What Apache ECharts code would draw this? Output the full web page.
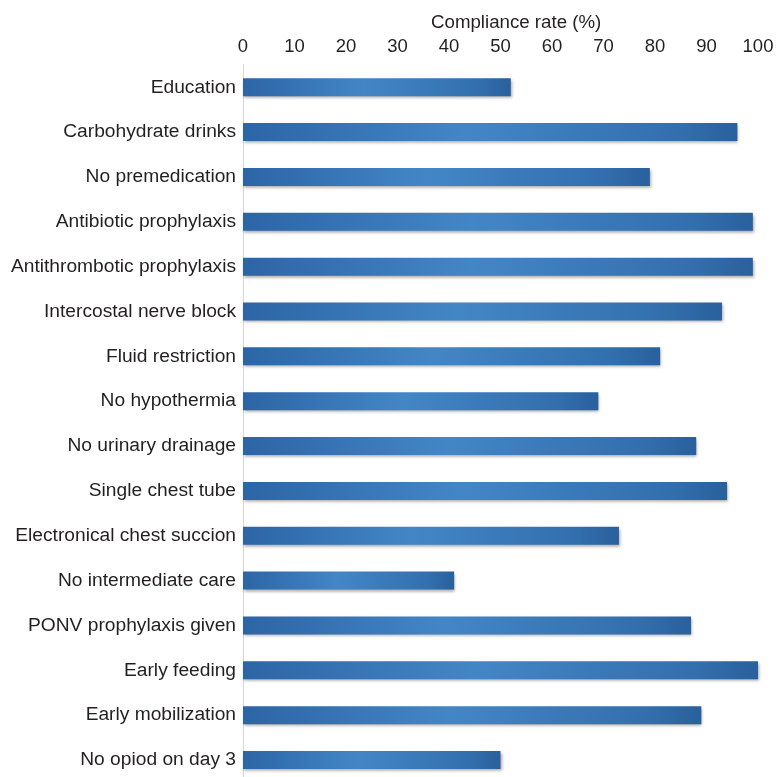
<!DOCTYPE html>
<html>
<head>
<meta charset="utf-8">
<script src="https://cdn.jsdelivr.net/npm/echarts@6/dist/echarts.min.js"></script>
<style>
html,body{margin:0;padding:0;background:#fff;overflow:hidden;}
#chart{width:777px;height:783px;}
</style>
</head>
<body>
<div id="chart"></div>
<script>
var categories = [
  'Education',
  'Carbohydrate drinks',
  'No premedication',
  'Antibiotic prophylaxis',
  'Antithrombotic prophylaxis',
  'Intercostal nerve block',
  'Fluid restriction',
  'No hypothermia',
  'No urinary drainage',
  'Single chest tube',
  'Electronical chest succion',
  'No intermediate care',
  'PONV prophylaxis given',
  'Early feeding',
  'Early mobilization',
  'No opiod on day 3'
];
var complianceRate = [52, 96, 79, 99, 99, 93, 81, 69, 88, 94, 73, 41, 87, 100, 89, 50];
var axisTitle = 'Compliance rate (%)';

var chart = echarts.init(document.getElementById('chart'), null, {renderer: 'canvas'});
var textColor = '#231f20';
var font = 'Liberation Sans, Arial, Helvetica, sans-serif';

chart.setOption({
  animation: false,
  backgroundColor: '#ffffff',
  title: {
    text: axisTitle,
    left: 426,
    top: 8,
    textStyle: {fontSize: 18.7, fontWeight: 'normal', color: textColor, fontFamily: font}
  },
  grid: {left: 243, right: 19, top: 64.8, height: 717.6, containLabel: false},
  xAxis: {
    type: 'value',
    position: 'top',
    min: 0,
    max: 100,
    interval: 10,
    axisLine: {show: false},
    axisTick: {show: false},
    splitLine: {show: false},
    axisLabel: {fontSize: 18.5, color: textColor, fontFamily: font, margin: 8}
  },
  yAxis: {
    type: 'category',
    data: categories,
    inverse: true,
    axisLine: {show: true, lineStyle: {color: '#d6d6d6', width: 1}},
    axisTick: {show: false},
    splitLine: {show: false},
    axisLabel: {fontSize: 19.2, color: textColor, fontFamily: font, margin: 7}
  },
  series: [{
    type: 'bar',
    data: complianceRate,
    barWidth: 18,
    itemStyle: {
      color: new echarts.graphic.LinearGradient(0, 0, 1, 0, [
        {offset: 0, color: '#2c65a6'},
        {offset: 0.45, color: '#4386c6'},
        {offset: 0.88, color: '#336fae'},
        {offset: 1, color: '#29609d'}
      ]),
      shadowColor: 'rgba(0,0,0,0.35)',
      shadowBlur: 3,
      shadowOffsetX: 1,
      shadowOffsetY: 2
    }
  }]
});
</script>
</body>
</html>
